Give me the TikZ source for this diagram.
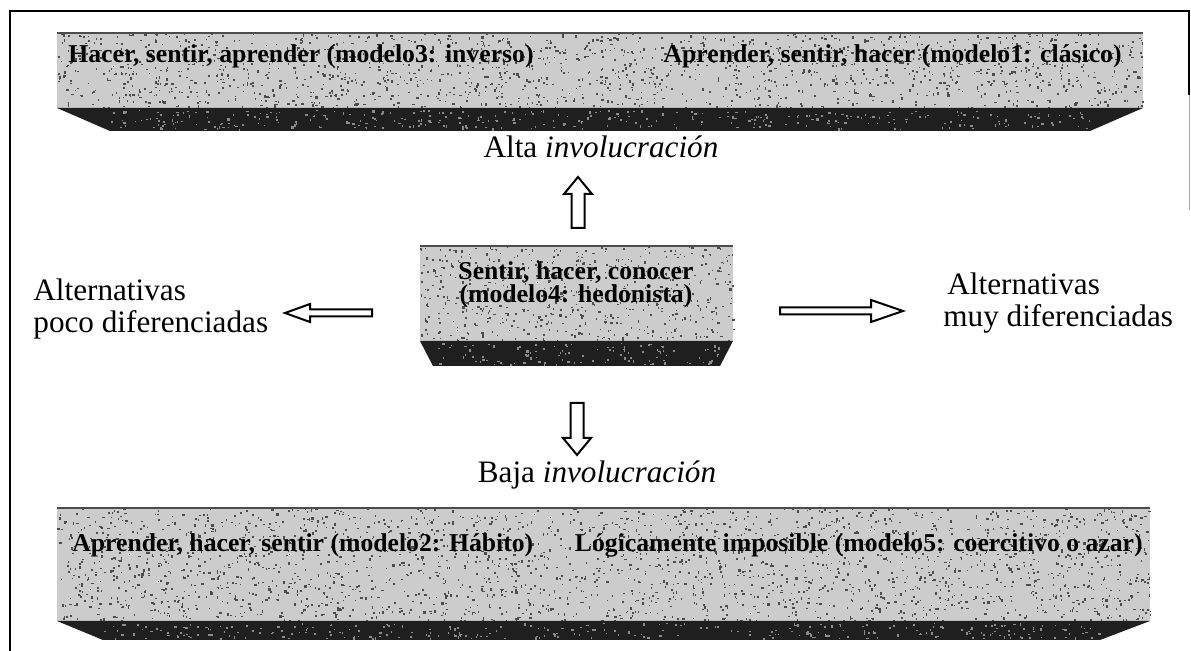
\documentclass[tikz,border=0pt]{standalone}
\usepackage{fontspec}
\setmainfont{Liberation Serif}

% scatter n small specks of a given style over a rectangle x1 y1 x2 y2
\newcommand\boxspeckles[6]{%
  \foreach \k in {1,...,#5}{%
    \fill[#6] ({#1+rnd*(#3-#1)},{#2+rnd*(#4-#2)}) rectangle ++({0.8+rnd*1.8},{0.8+rnd*1.8});
  }}

\begin{document}
\begin{tikzpicture}[x=0.5pt,y=-0.5pt]
\tikzset{
  face/.style={fill=black!20},
  band/.style={fill=black!88},
  darkspeck/.style={fill=black!70},
  lightspeck/.style={fill=black!45},
  boxtext/.style={font=\fontsize{12.85}{11}\selectfont\bfseries, inner sep=0pt},
  label/.style={font=\fontsize{15.6}{16}\selectfont, inner sep=0pt},
  hollow/.style={draw=black, line width=1pt, fill=white, line join=miter},
  frameline/.style={line width=1.2pt}
}
\pgfmathsetseed{1234}
\useasboundingbox (0,0) rectangle (1191,651);

% page frame (right edge only partly visible)
\draw[frameline] (10,651) -- (10,11) -- (1189,11) -- (1189,95);
\draw[black!35, line width=0.5pt] (1189,95) -- (1189,210);

% ---- top block: high involvement models
\fill[face] (57,33) rectangle (1143,108);
\boxspeckles{57}{33}{1143}{108}{1600}{darkspeck}
\draw[black!70, line width=0.6pt] (57,33) -- (1143,33);
\fill[band] (57,108) -- (1143,108) -- (1090,131) -- (110,131) -- cycle;
\boxspeckles{110}{110}{1090}{129}{350}{lightspeck}
\node[boxtext, anchor=base west] (m3) at (68,63) {Hacer, sentir, aprender (modelo3: inverso)};
\node[boxtext, anchor=base east] (m1) at (1122,63) {Aprender, sentir, hacer (modelo1: clásico)};

\node[label, anchor=base] (alta) at (601,158) {Alta \textit{involucración}};

% ---- centre block
\fill[face] (420,246) rectangle (733,341);
\boxspeckles{420}{246}{733}{341}{600}{darkspeck}
\draw[black!70, line width=0.6pt] (420,246) -- (733,246);
\fill[band] (420,341) -- (733,341) -- (720,366) -- (433,366) -- cycle;
\boxspeckles{433}{343}{720}{364}{110}{lightspeck}
\node[boxtext, anchor=base] (m4a) at (576,280) {Sentir, hacer, conocer};
\node[boxtext, anchor=base] (m4b) at (576,303) {(modelo4: hedonista)};

% ---- side labels
\node[label, anchor=base west] (lowA) at (33,301) {Alternativas};
\node[label, anchor=base west] (lowB) at (33,333) {poco diferenciadas};
\node[label, anchor=base west] (highA) at (947,295) {Alternativas};
\node[label, anchor=base west] (highB) at (943,327) {muy diferenciadas};

% ---- hollow block arrows
\coordinate (leftTip) at (285,313);
\draw[hollow] (leftTip) -- ++(25,-9) -- ++(0,5.5) -- ++(62,0) -- ++(0,7) -- ++(-62,0) -- ++(0,5.5) -- cycle;
\coordinate (rightTip) at (903,311);
\draw[hollow] (rightTip) -- ++(-32,-11) -- ++(0,7.5) -- ++(-91,0) -- ++(0,7) -- ++(91,0) -- ++(0,7.5) -- cycle;
\coordinate (upTip) at (578,177);
\draw[hollow] (upTip) -- ++(14,17) -- ++(-7.5,0) -- ++(0,34) -- ++(-13,0) -- ++(0,-34) -- ++(-7.5,0) -- cycle;
\coordinate (downTip) at (577,455);
\draw[hollow] (downTip) -- ++(14,-17) -- ++(-7.5,0) -- ++(0,-35) -- ++(-13,0) -- ++(0,35) -- ++(-7.5,0) -- cycle;

\node[label, anchor=base] (baja) at (597,483) {Baja \textit{involucración}};

% ---- bottom block: low involvement models
\fill[face] (57,508) rectangle (1150,621);
\boxspeckles{57}{508}{1150}{621}{2400}{darkspeck}
\draw[black!70, line width=0.6pt] (57,508) -- (1150,508);
\fill[band] (57,621) -- (1150,621) -- (1100,640) -- (103,640) -- cycle;
\boxspeckles{103}{623}{1100}{638}{300}{lightspeck}
\node[boxtext, anchor=base west] (m2) at (72,552) {Aprender, hacer, sentir (modelo2: Hábito)};
\node[boxtext, anchor=base east] (m5) at (1143,552) {Lógicamente imposible (modelo5: coercitivo o azar)};
\end{tikzpicture}
\end{document}
